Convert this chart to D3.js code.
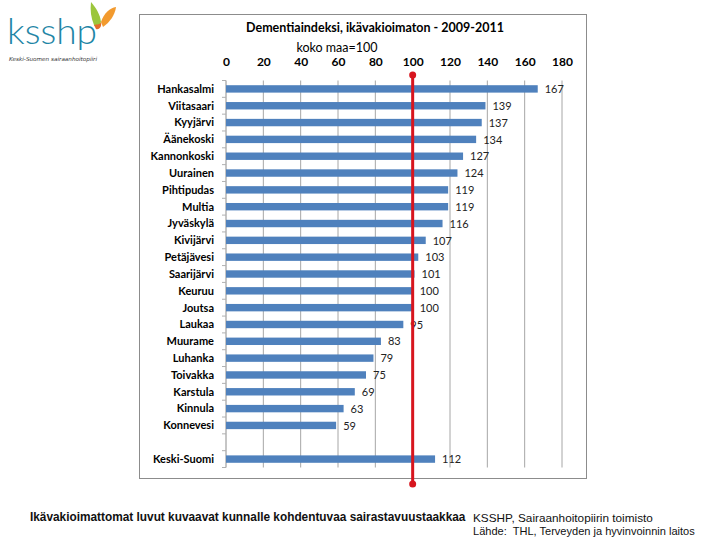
<!DOCTYPE html>
<html>
<head>
<meta charset="utf-8">
<script src="https://cdn.jsdelivr.net/npm/d3@7"></script>
<style>
  body { margin: 0; background: #fff; }
  svg { display: block; }
</style>
</head>
<body>
<div id="chart"></div>
<script>
// Municipalities, sorted as in the chart
const municipalities = [
    "Hankasalmi", "Viitasaari", "Kyyjärvi", "Äänekoski", "Kannonkoski",
    "Uurainen", "Pihtipudas", "Multia", "Jyväskylä", "Kivijärvi",
    "Petäjävesi", "Saarijärvi", "Keuruu", "Joutsa", "Laukaa",
    "Muurame", "Luhanka", "Toivakka", "Karstula", "Kinnula", "Konnevesi"
];
const municipalityValues = [
    167, 139, 137, 134, 127, 124, 119, 119, 116, 107,
    103, 101, 100, 100, 95, 83, 79, 75, 69, 63, 59
];
const totalLabel = "Keski-Suomi";
const totalValue = 112;
const referenceValue = 100;
const xTicks = [0, 20, 40, 60, 80, 100, 120, 140, 160, 180];

// One blank slot between the municipalities and the region total
const rows = municipalities.map((name, i) => ({ name, value: municipalityValues[i] }));
rows.push({ name: "", value: null });
rows.push({ name: totalLabel, value: totalValue });

const width = 720, height = 540;
const svg = d3.select("#chart").append("svg")
    .attr("width", width)
    .attr("height", height);

// Logo
const logo = svg.append("g");
logo.append("text")
    .attr("x", 7).attr("y", 44)
    .attr("textLength", 90)
    .attr("lengthAdjust", "spacingAndGlyphs")
    .style("font-family", "Lato, 'Open Sans', sans-serif")
    .style("font-size", "36px")
    .style("font-weight", "300")
    .attr("fill", "#1f86a6")
    .text("ksshp");
logo.append("path")
    .attr("d", "M91,2 C96,8 100,14 101,22 C99,27 96,28 94,25 C91,18 90,10 91,2 Z")
    .attr("fill", "#9cc63b");
logo.append("path")
    .attr("d", "M101,22 C104,13 110,8 116,7 C115,15 110,22 103,27 Z")
    .attr("fill", "#f29a2e");
logo.append("path")
    .attr("d", "M94,25 C97,24 100,25 101,22 C102,27 99,30 96,29 Z")
    .attr("fill", "#e46b2a");
logo.append("text")
    .attr("x", 9).attr("y", 61)
    .attr("textLength", 88)
    .attr("lengthAdjust", "spacingAndGlyphs")
    .style("font-family", "'DejaVu Sans', sans-serif")
    .style("font-size", "5.5px")
    .style("font-style", "italic")
    .attr("fill", "#333")
    .text("Keski-Suomen sairaanhoitopiiri");

// Chart frame
svg.append("rect")
    .attr("x", 139.5).attr("y", 14.5)
    .attr("width", 447).attr("height", 464)
    .attr("fill", "#fff")
    .attr("stroke", "#8c8c8c");

const x = d3.scaleLinear().domain([0, 180]).range([226, 562]);
const y = d3.scaleBand()
    .domain(rows.map((d, i) => i))
    .range([80.5, 467.5])
    .paddingInner(0.56)
    .paddingOuter(0.28);

const labelFont = "Lato, 'Open Sans', sans-serif";

// Title
svg.append("text")
    .attr("x", 375).attr("y", 32)
    .attr("text-anchor", "middle")
    .style("font-family", labelFont)
    .style("font-size", "12.5px")
    .style("font-weight", "bold")
    .text("Dementiaindeksi, ikävakioimaton - 2009-2011");
svg.append("text")
    .attr("x", 337).attr("y", 52)
    .attr("text-anchor", "middle")
    .style("font-family", labelFont)
    .style("font-size", "12.5px")
    .text("koko maa=100");

// Gridlines
svg.append("g")
    .selectAll("line")
    .data(xTicks)
    .enter()
    .append("line")
    .attr("x1", d => x(d)).attr("x2", d => x(d))
    .attr("y1", 80.5).attr("y2", 467.5)
    .attr("stroke", d => d === 0 ? "#8c8c8c" : "#a6a6a6")
    .attr("stroke-width", 1);

// Small category ticks on the left
const bandStep = y.step();
svg.append("g")
    .selectAll("line")
    .data(d3.range(rows.length + 1))
    .enter()
    .append("line")
    .attr("x1", x(0) - 4).attr("x2", x(0))
    .attr("y1", i => 80.5 + i * bandStep)
    .attr("y2", i => 80.5 + i * bandStep)
    .attr("stroke", "#b0b0b0");

// Top axis
const xAxis = d3.axisTop(x).tickValues(xTicks).tickSize(0).tickPadding(0);
const axisG = svg.append("g")
    .attr("transform", "translate(0, 66)")
    .call(xAxis);
axisG.select(".domain").remove();
axisG.selectAll("text")
    .style("font-family", labelFont)
    .style("font-size", "12px")
    .style("font-weight", "bold")
    .attr("fill", "#000");

// Bars
const data = rows.map((d, i) => ({ ...d, i })).filter(d => d.value !== null);
svg.append("g")
    .selectAll("rect")
    .data(data)
    .enter()
    .append("rect")
    .attr("x", x(0))
    .attr("y", d => y(d.i))
    .attr("width", d => x(d.value) - x(0))
    .attr("height", y.bandwidth())
    .attr("fill", "#4f81bd");

// Category labels
svg.append("g")
    .selectAll("text")
    .data(data)
    .enter()
    .append("text")
    .attr("x", 214)
    .attr("y", d => y(d.i) + y.bandwidth() / 2)
    .attr("dy", "0.35em")
    .attr("text-anchor", "end")
    .style("font-family", labelFont)
    .style("font-size", "11px")
    .style("font-weight", "bold")
    .text(d => d.name);

// Value labels
svg.append("g")
    .selectAll("text")
    .data(data)
    .enter()
    .append("text")
    .attr("x", d => x(d.value) + 7)
    .attr("y", d => y(d.i) + y.bandwidth() / 2)
    .attr("dy", "0.38em")
    .style("font-family", labelFont)
    .style("font-size", "11px")
    .attr("fill", "#222")
    .text(d => d.value);

// Reference line at 100
const ref = svg.append("g");
ref.append("line")
    .attr("x1", x(referenceValue)).attr("x2", x(referenceValue))
    .attr("y1", 75).attr("y2", 484)
    .attr("stroke", "#d7151e")
    .attr("stroke-width", 3);
ref.selectAll("circle")
    .data([75, 484])
    .enter()
    .append("circle")
    .attr("cx", x(referenceValue))
    .attr("cy", d => d)
    .attr("r", 3.5)
    .attr("fill", "#d7151e");

// Footnotes, squeezed horizontally to mimic a narrow font
const narrow = "'Liberation Sans Narrow', 'Arial Narrow', 'Liberation Sans', sans-serif";
function narrowText(tx, ty, w, size, weight, str) {
    const t = svg.append("text")
        .attr("x", 0).attr("y", 0)
        .style("font-family", narrow)
        .style("font-size", size + "px")
        .style("font-weight", weight)
        .style("white-space", "pre")
        .attr("fill", "#111")
        .text(str);
    const len = t.node().getComputedTextLength();
    t.attr("transform", `translate(${tx}, ${ty}) scale(${w / len}, 1)`);
}
narrowText(30, 521, 436, 13, "bold",
    "Ikävakioimattomat luvut kuvaavat kunnalle kohdentuvaa sairastavuustaakkaa");
narrowText(473, 522, 180, 10.5, "normal", "KSSHP, Sairaanhoitopiirin toimisto");
narrowText(473, 535, 222, 10.5, "normal", "Lähde:  THL, Terveyden ja hyvinvoinnin laitos");
</script>
</body>
</html>
